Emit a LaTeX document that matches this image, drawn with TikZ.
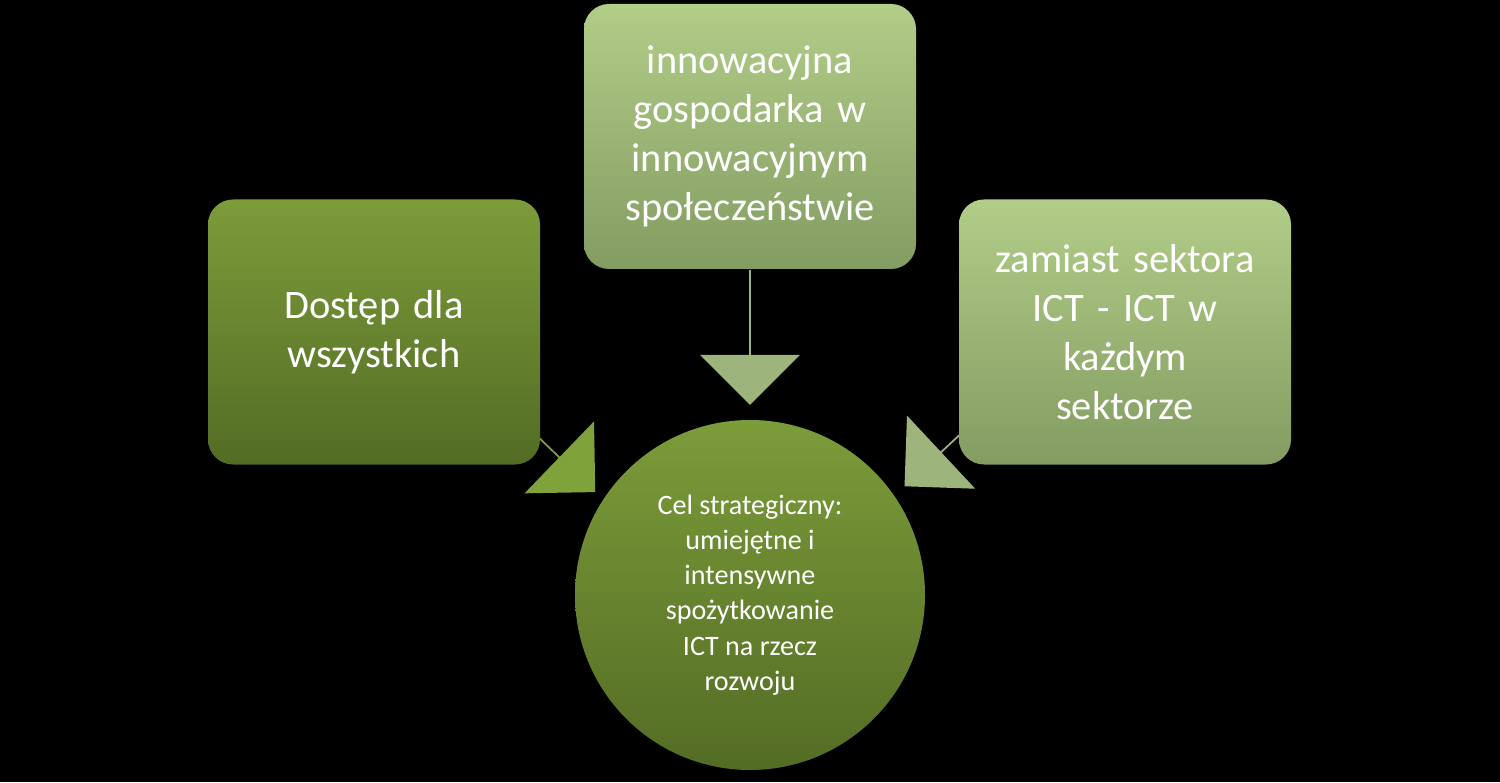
\documentclass[tikz,border=0pt]{standalone}
\usepackage{fontspec}
\setmainfont{Carlito}
\usetikzlibrary{shapes.arrows}
\definecolor{darktop}{HTML}{7C9C3A}
\definecolor{darkbot}{HTML}{536C24}
\definecolor{lighttop}{HTML}{B2CD88}
\definecolor{lightbot}{HTML}{839C62}
\definecolor{arrowlight}{HTML}{9DB47C}
\definecolor{arrowdark}{HTML}{7FA23A}
\tikzset{
  goalbox/.style={rounded corners=0.5cm, minimum width=6.64cm, minimum height=5.3cm,
    text width=6.4cm, align=center, text=white, font=\fontsize{23}{28}\selectfont},
  darkbox/.style={goalbox, top color=darktop, bottom color=darkbot},
  lightbox/.style={goalbox, top color=lighttop, bottom color=lightbot},
  bigarrow/.style={single arrow, minimum width=2cm, single arrow head extend=0.4cm,
    single arrow head indent=0cm, inner sep=0pt, draw=none}
}
\begin{document}
\begin{tikzpicture}
  \fill[black] (0,0) rectangle (30,15.64);
  \useasboundingbox (0,0) rectangle (30,15.64);
  % arrows under the boxes
  \node[bigarrow, fill=arrowlight, minimum height=2.7cm, rotate=-90] (atop) at (15,8.9) {};
  \node[bigarrow, fill=arrowdark, minimum height=3.5cm, rotate=-44] (aleft) at (10.64,7.02) {};
  \node[bigarrow, fill=arrowlight, minimum height=3.4cm, rotate=-137] (aright) at (19.34,7.08) {};
  % boxes
  \node[darkbox] (access) at (7.48,9.0) {Dostęp dla\\wszystkich};
  \node[lightbox] (economy) at (15,12.91) {innowacyjna\\gospodarka w\\innowacyjnym\\społeczeństwie};
  \node[lightbox] (sector) at (22.5,9.0) {zamiast sektora\\ICT - ICT w\\każdym\\sektorze};
  % goal
  \node[circle, minimum size=7cm, top color=darktop, bottom color=darkbot, text=white,
    align=center, font=\fontsize{16}{20}\selectfont] (goal) at (15,3.74)
    {Cel strategiczny:\\umiejętne i\\intensywne\\spożytkowanie\\ICT na rzecz\\rozwoju};
\end{tikzpicture}
\end{document}
